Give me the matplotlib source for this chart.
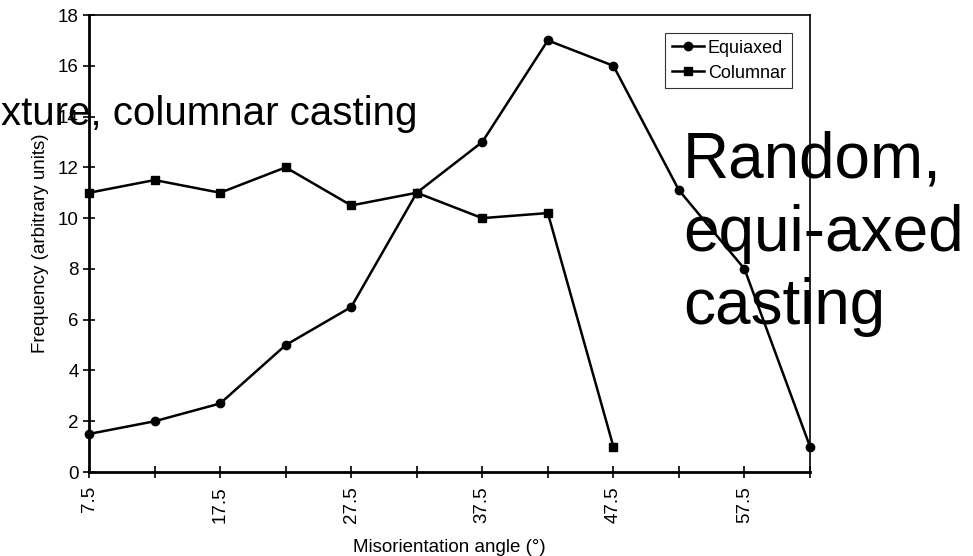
import numpy as np
import matplotlib.pyplot as plt

plt.rcParams['font.family'] = ['Liberation Sans', 'DejaVu Sans']

angles = [7.5, 12.5, 17.5, 22.5, 27.5, 32.5, 37.5, 42.5, 47.5, 52.5, 57.5, 62.5]
equiaxed = [1.5, 2.0, 2.7, 5.0, 6.5, 11.0, 13.0, 17.0, 16.0, 11.1, 8.0, 1.0]
col_angles = [7.5, 12.5, 17.5, 22.5, 27.5, 32.5, 37.5, 42.5, 47.5]
columnar = [11.0, 11.5, 11.0, 12.0, 10.5, 11.0, 10.0, 10.2, 1.0]
tick_labels = ['7.5', '', '17.5', '', '27.5', '', '37.5', '', '47.5', '', '57.5', '']

fig = plt.figure(figsize=(9.73, 5.56), dpi=100)
ax = fig.add_axes([0.0915, 0.151, 0.741, 0.822])

ax.plot(angles, equiaxed, color='black', lw=1.8, marker='o', ms=6, label='Equiaxed', clip_on=False, zorder=3)
ax.plot(col_angles, columnar, color='black', lw=1.8, marker='s', ms=5.5, label='Columnar', clip_on=False, zorder=3)

ax.set_xlim(7.5, 62.5)
ax.set_ylim(0, 18)
ax.set_yticks(np.arange(0, 19, 2))
ax.set_xticks(angles)
ax.set_xticklabels(tick_labels, rotation=90)
ax.tick_params(direction='inout', length=8, width=1.2, labelsize=13.5, colors='black')
ax.tick_params(axis='x', pad=6)

for s in ['left', 'bottom']:
    ax.spines[s].set_linewidth(2)
for s in ['top', 'right']:
    ax.spines[s].set_linewidth(1.2)

ax.set_xlabel('Misorientation angle (°)', fontsize=13.5, labelpad=12)
ax.set_ylabel('Frequency (arbitrary units)', fontsize=13.5, labelpad=6)

leg = ax.legend(loc='upper right', bbox_to_anchor=(0.975, 0.96), fontsize=13, frameon=True,
                fancybox=False, edgecolor='black', handlelength=1.8, handletextpad=0.2,
                borderpad=0.35, labelspacing=0.45, borderaxespad=0)
leg.get_frame().set_linewidth(0.8)

# overlaid annotations
fig.text(0.001, 0.775, 'xture, columnar casting', fontsize=29, ha='left', va='baseline')
fig.text(0.702, 0.765, 'Random,\nequi-axed\ncasting', fontsize=46, ha='left', va='top',
         linespacing=1.28)

fig.savefig('out.png', dpi=100)
